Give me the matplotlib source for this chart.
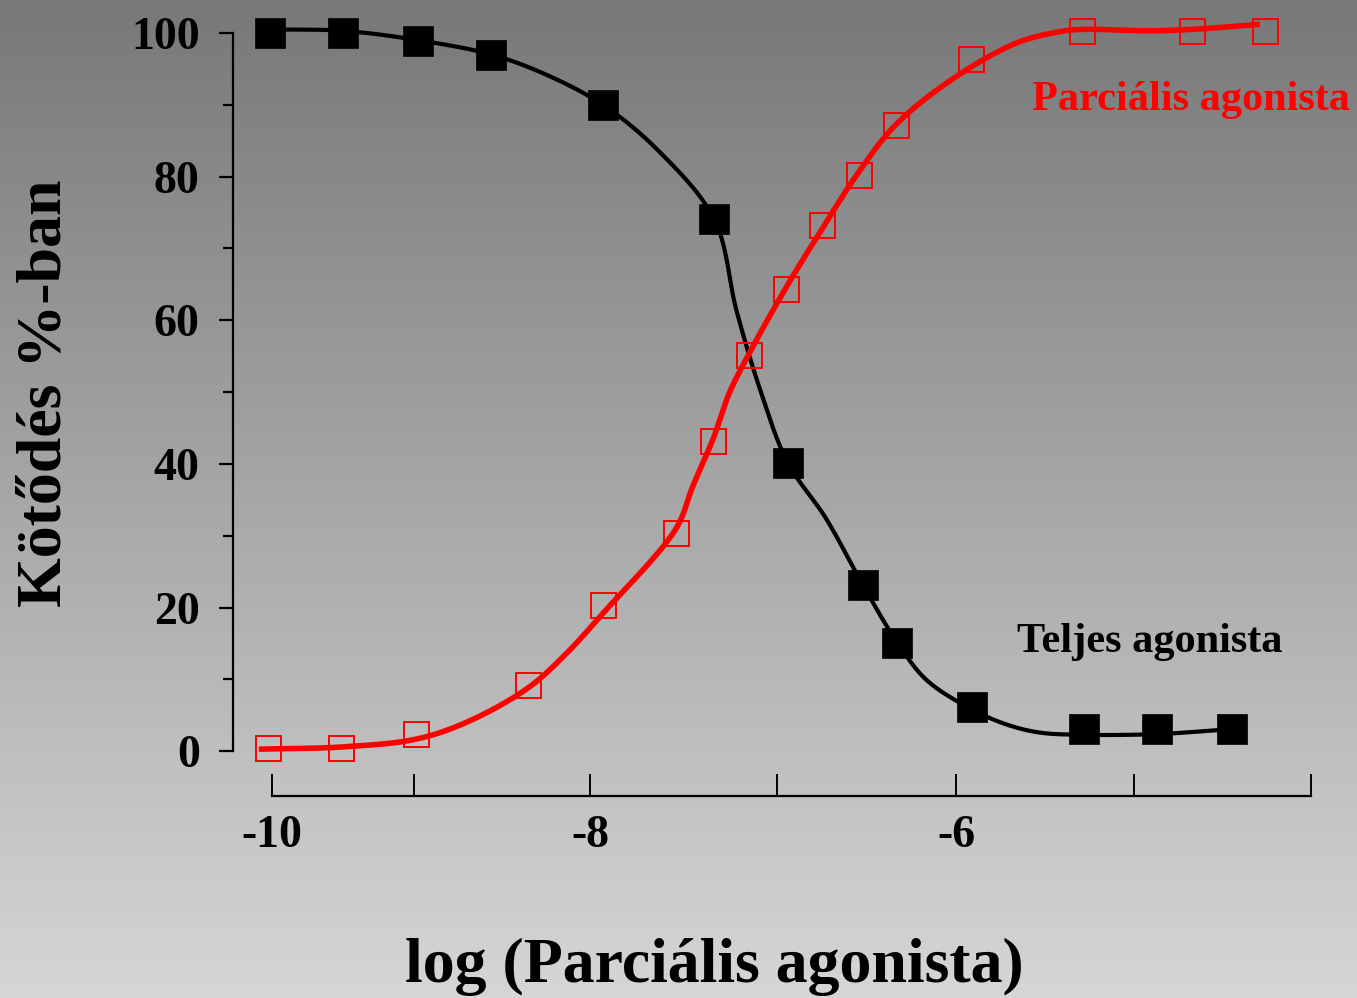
import numpy as np
import matplotlib
matplotlib.use("Agg")
import matplotlib.pyplot as plt
from matplotlib.colors import LinearSegmentedColormap

# ---------------- data ----------------
full_x = [-9.75, -9.35, -8.94, -8.54, -7.93, -7.32, -6.92, -6.51, -6.32, -5.91, -5.30, -4.90, -4.49]
full_y = [100.0, 100.0, 98.9, 96.9, 90.0, 74.1, 40.2, 23.2, 15.1, 6.2, 3.1, 3.1, 3.1]

partial_x = [-9.76, -9.36, -8.95, -8.34, -7.93, -7.53, -7.33, -7.13, -6.93, -6.73,
             -6.53, -6.33, -5.92, -5.31, -4.71, -4.31]
partial_y = [0.4, 0.4, 2.4, 9.2, 20.4, 30.4, 43.2, 55.2, 64.4, 73.3,
             80.2, 87.2, 96.4, 100.3, 100.3, 100.3]

# smoothed curve paths as they appear in the picture
full_curve_x = [-9.75, -9.35, -8.94, -8.54, -8.24, -7.93, -7.63, -7.32, -7.20, -7.07,
                -6.92, -6.71, -6.51, -6.32, -6.16, -5.91, -5.72, -5.54, -5.30, -4.90, -4.49]
full_curve_y = [100.5, 100.3, 99.0, 97.0, 94.2, 90.0, 83.7, 74.0, 61.4, 50.3,
                40.2, 32.4, 23.2, 15.1, 9.9, 5.8, 3.7, 2.6, 2.3, 2.4, 3.1]

partial_curve_x = [-9.81, -9.36, -8.95, -8.67, -8.34, -8.13, -7.93, -7.53, -7.44,
                   -7.33, -7.24, -7.13, -6.93, -6.73, -6.53, -6.33, -6.03, -5.67, -5.43,
                   -5.31, -4.94, -4.71, -4.34]
partial_curve_y = [0.3, 0.6, 1.7, 4.1, 8.8, 13.6, 19.2, 31.0, 36.8,
                   43.3, 49.8, 55.4, 64.5, 72.8, 80.7, 87.2, 93.4, 98.6, 100.2,
                   100.5, 100.3, 100.5, 101.2]

xtick_pos = [-9.74, -8.96, -8.0, -6.98, -6.0, -5.03, -4.06]
xtick_labels = ['-10', '', '-8', '', '-6', '', '']
ytick_major = [0, 20, 40, 60, 80, 100]
ytick_minor = [10, 30, 50, 70, 90]

ylabel_text = 'Kötődés %-ban'
xlabel_text = 'log (Parciális agonista)'
full_label = 'Teljes agonista'
partial_label = 'Parciális agonista'

# ---------------- style ----------------
plt.rcParams['font.family'] = ['Liberation Serif', 'DejaVu Serif']
plt.rcParams['font.weight'] = 'bold'

W, H = 1357, 998
fig = plt.figure(figsize=(W / 100, H / 100), dpi=100)

# gradient background
bg = fig.add_axes([0, 0, 1, 1], zorder=-10)
cmap = LinearSegmentedColormap.from_list('bg', ['#787878', '#d6d6d6'])
bg.imshow(np.linspace(0, 1, 512)[:, None], aspect='auto', cmap=cmap,
          extent=[0, 1, 0, 1])
bg.set_axis_off()

left_px, right_px, top_px, bottom_px = 233, 1320, 15, 796
ax = fig.add_axes([left_px / W, (H - bottom_px) / H,
                   (right_px - left_px) / W, (bottom_px - top_px) / H])
ax.patch.set_alpha(0)
ax.set_xlim(-9.951, -4.011)
ax.set_ylim(-6.22, 102.5)

for s in ['top', 'right']:
    ax.spines[s].set_visible(False)
ax.spines['left'].set_bounds(0, 100)
ax.spines['bottom'].set_bounds(xtick_pos[0], xtick_pos[-1])
for s in ['left', 'bottom']:
    ax.spines[s].set_linewidth(1.6)

ax.set_yticks(ytick_major)
ax.set_yticks(ytick_minor, minor=True)
ax.set_yticklabels([str(v) for v in ytick_major])
ax.set_xticks(xtick_pos)
ax.set_xticklabels(xtick_labels)
ax.tick_params(axis='y', which='major', direction='out', length=10, width=1.6,
               pad=14, labelsize=33)
ax.tick_params(axis='y', which='minor', direction='out', length=7, width=1.6)
ax.tick_params(axis='x', which='major', direction='in', length=16, width=1.4,
               pad=14, labelsize=33)


def catmull_rom(P, n=40, alpha=0.5):
    P = np.asarray(P, dtype=float)
    P = np.vstack([2 * P[0] - P[1], P, 2 * P[-1] - P[-2]])
    out = []
    for i in range(1, len(P) - 2):
        p0, p1, p2, p3 = P[i - 1], P[i], P[i + 1], P[i + 2]
        t0 = 0.0
        t1 = t0 + np.linalg.norm(p1 - p0) ** alpha
        t2 = t1 + np.linalg.norm(p2 - p1) ** alpha
        t3 = t2 + np.linalg.norm(p3 - p2) ** alpha
        t = np.linspace(t1, t2, n)[:, None]
        A1 = (t1 - t) / (t1 - t0) * p0 + (t - t0) / (t1 - t0) * p1
        A2 = (t2 - t) / (t2 - t1) * p1 + (t - t1) / (t2 - t1) * p2
        A3 = (t3 - t) / (t3 - t2) * p2 + (t - t2) / (t3 - t2) * p3
        B1 = (t2 - t) / (t2 - t0) * A1 + (t - t0) / (t2 - t0) * A2
        B2 = (t3 - t) / (t3 - t1) * A2 + (t - t1) / (t3 - t1) * A3
        C = (t2 - t) / (t2 - t1) * B1 + (t - t1) / (t2 - t1) * B2
        out.append(C if i == len(P) - 3 else C[:-1])
    return np.vstack(out)


def smooth(xs, ys):
    disp = ax.transData.transform(np.column_stack([xs, ys]))
    curve = catmull_rom(disp)
    data = ax.transData.inverted().transform(curve)
    return data[:, 0], data[:, 1]


fx, fy = smooth(full_curve_x, full_curve_y)
px, py = smooth(partial_curve_x, partial_curve_y)

ax.plot(fx, fy, color='black', lw=3.0, zorder=3, solid_capstyle='butt')
ax.plot(px, py, color='#ff0000', lw=4.0, zorder=3.5, solid_capstyle='butt')
ax.plot(full_x, full_y, 's', color='black', markersize=21.5, mew=0.5, zorder=4)
ax.plot(partial_x, partial_y, 's', mfc='none', mec='#ff0000', markersize=18,
        mew=1.4, zorder=4)

# annotations and axis titles
fig.text(1191 / W, (H - 110) / H, partial_label, color='#ff0000', fontsize=30.5,
         fontweight='bold', ha='center', va='baseline')
fig.text(1150 / W, (H - 652) / H, full_label, color='black', fontsize=30.5,
         fontweight='bold', ha='center', va='baseline')
fig.text(714 / W, (H - 982) / H, xlabel_text, color='black', fontsize=46,
         fontweight='bold', ha='center', va='baseline')
fig.text(46 / W, (H - 393) / H, ylabel_text, color='black', fontsize=46,
         fontweight='bold', ha='center', va='center', rotation=90)

fig.savefig('out.png', dpi=100)
